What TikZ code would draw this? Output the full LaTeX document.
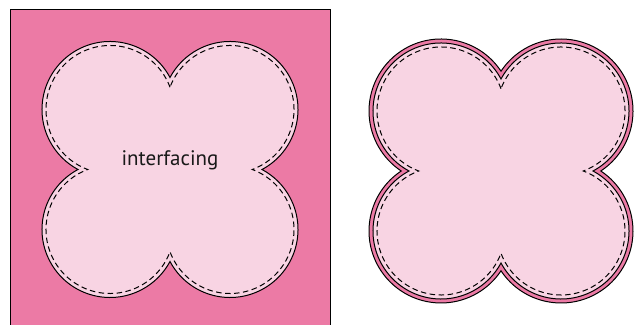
\documentclass[tikz,border=0pt]{standalone}
\usepackage{fontspec}
\setmainfont{PT Sans}
\definecolor{rosepink}{HTML}{EC7AA5}
\definecolor{lightpink}{HTML}{F8D4E3}
\tikzset{
  qfoil/.style n args={4}{insert path={
    ({#1},{#2+#3+sqrt(#4*#4-#3*#3)})
    arc[start angle={atan(sqrt(#4*#4-#3*#3)/#3)}, end angle={270-atan(sqrt(#4*#4-#3*#3)/#3)}, radius=#4]
    arc[start angle={90+atan(sqrt(#4*#4-#3*#3)/#3)}, end angle={360-atan(sqrt(#4*#4-#3*#3)/#3)}, radius=#4]
    arc[start angle={180+atan(sqrt(#4*#4-#3*#3)/#3)}, end angle={450-atan(sqrt(#4*#4-#3*#3)/#3)}, radius=#4]
    arc[start angle={atan(sqrt(#4*#4-#3*#3)/#3)-90}, end angle={180-atan(sqrt(#4*#4-#3*#3)/#3)}, radius=#4]
    -- cycle}},
  outline/.style={draw=black, line width=1pt, line join=miter},
  stitch/.style={draw=black, line width=1pt, dash pattern=on 5.5pt off 3.5pt},
  label/.style={font=\fontsize{21}{24}\selectfont, text=black!90, inner sep=0pt, anchor=base}
}
\begin{document}
\begin{tikzpicture}[x=1pt,y=1pt]
  \useasboundingbox (0,0) rectangle (642,324);
  \begin{scope}
    \clip (0,0) rectangle (642,324);
    \path[fill=rosepink, outline] (10,-10) rectangle (330,314);
  \end{scope}
  % left piece
  \path[fill=lightpink, outline, qfoil={170}{154.5}{60}{68}];
  \path[stitch, qfoil={170}{154.5}{60}{64}];
  \node[label] (lbl) at (170,158) {interfacing};
  % right piece
  \path[fill=rosepink, outline, qfoil={501}{153}{60}{72}];
  \path[fill=lightpink, outline, qfoil={501}{153}{60}{68}];
  \path[stitch, qfoil={501}{153}{60}{64}];
\end{tikzpicture}
\end{document}
